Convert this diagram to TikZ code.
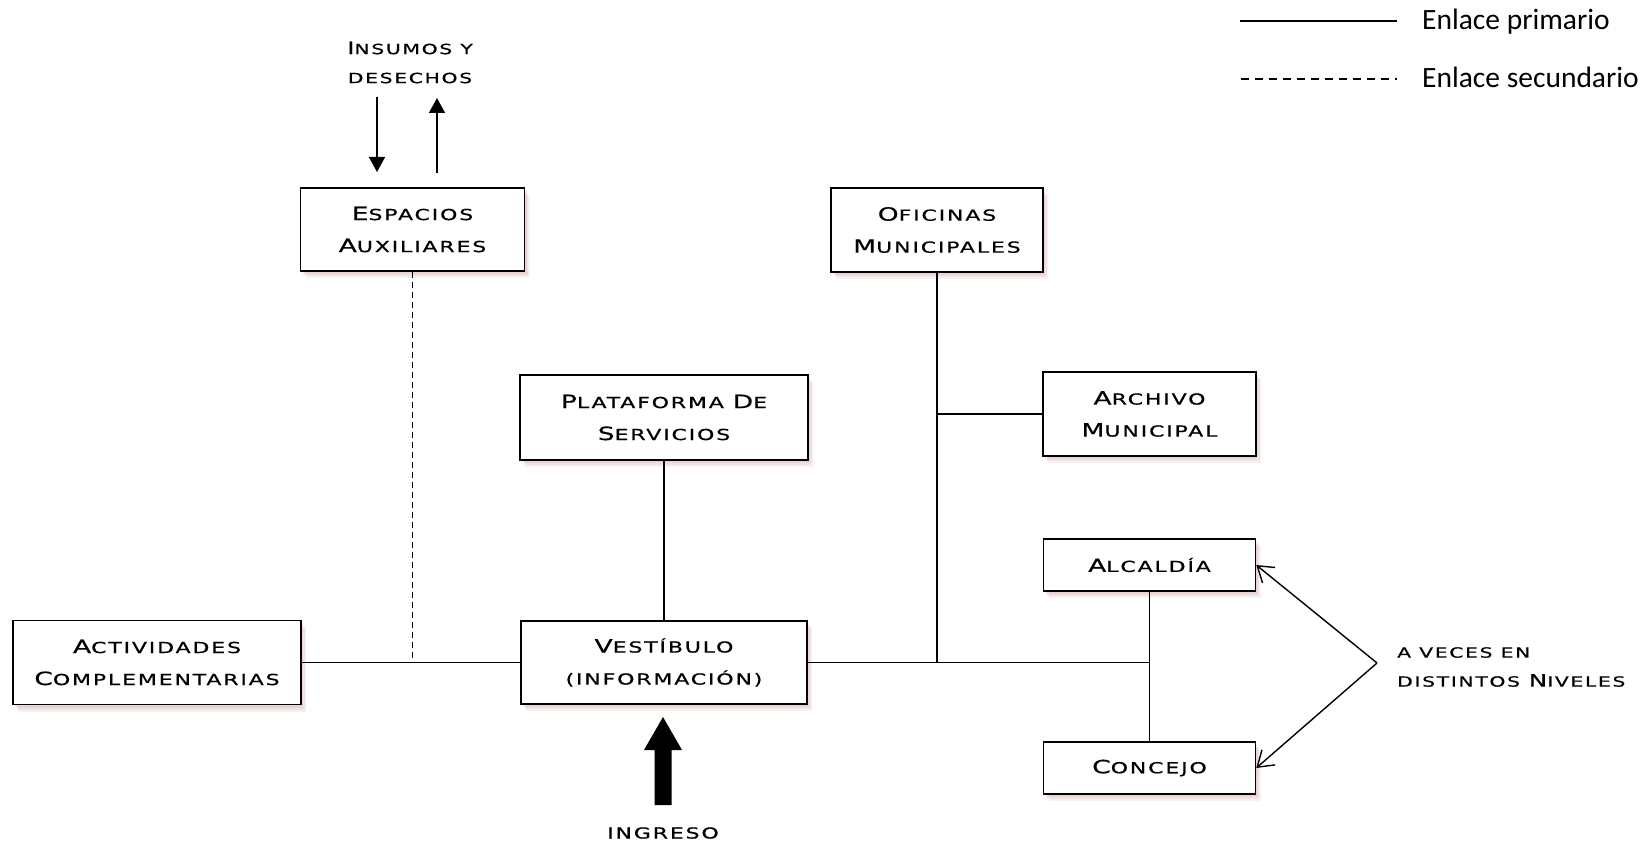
\documentclass[tikz,border=0pt]{standalone}
\usepackage{fontspec}
\setmainfont{DejaVu Sans}
\newfontfamily\cop[FakeStretch=1.45,LetterSpace=12,FakeBold=0.6]{DejaVu Sans}
\newfontfamily\leg{Carlito}
\usetikzlibrary{arrows.meta,shadows}
\definecolor{shd}{RGB}{190,120,120}
\def\Kb#1{{\fontsize{18.3}{20}\selectfont #1}}
\def\Ks#1{{\fontsize{15.2}{20}\selectfont #1}}
\def\Lb#1{{\fontsize{17}{20}\selectfont #1}}
\def\Ls#1{{\fontsize{14}{20}\selectfont #1}}
\tikzset{
  nbox/.style={draw, line width=1.5pt, fill=white, align=center, inner sep=0pt,
    font={\cop\fontsize{15.2}{32}\selectfont},
    drop shadow={shadow xshift=5pt, shadow yshift=-7pt, fill=shd, opacity=0.10},
    drop shadow={shadow xshift=3.5pt, shadow yshift=-5pt, fill=shd, opacity=0.12},
    drop shadow={shadow xshift=2pt, shadow yshift=-3pt, fill=shd, opacity=0.15}},
  lbl/.style={align=center, inner sep=0pt, font={\cop\fontsize{15.2}{29}\selectfont}},
  link/.style={line width=1.5pt},
  sec/.style={line width=1.5pt, dash pattern=on 6pt off 4pt},
  legtxt/.style={anchor=base west, inner sep=0pt, font={\leg\fontsize{29.5}{30}\selectfont}}
}
\begin{document}
\begin{tikzpicture}[x=1pt,y=-1pt]
\useasboundingbox (0,0) rectangle (1649,845);

% boxes
\node[nbox, minimum width=224, minimum height=83] (esp) at (412.5,229.5) {\Kb{E}\Ks{SPACIOS}\\\Kb{A}\Ks{UXILIARES}};
\node[nbox, minimum width=288, minimum height=84] (act) at (157,662.5) {\Kb{A}\Ks{CTIVIDADES}\\\Kb{C}\Ks{OMPLEMENTARIAS}};
\node[nbox, minimum width=286, minimum height=83] (ves) at (664,662.5) {\Kb{V}\Ks{ESTÍBULO}\\\Ks{(INFORMACIÓN)}};
\node[nbox, minimum width=288, minimum height=85] (pla) at (664,417.5) {\Kb{P}\Ks{LATAFORMA} \Kb{D}\Ks{E}\\\Kb{S}\Ks{ERVICIOS}};
\node[nbox, minimum width=212, minimum height=84] (ofi) at (937,230) {\Kb{O}\Ks{FICINAS}\\\Kb{M}\Ks{UNICIPALES}};
\node[nbox, minimum width=213, minimum height=84] (arc) at (1149.5,414) {\Kb{A}\Ks{RCHIVO}\\\Kb{M}\Ks{UNICIPAL}};
\node[nbox, minimum width=212, minimum height=52] (alc) at (1149.5,565) {\Kb{A}\Ks{LCALDÍA}};
\node[nbox, minimum width=212, minimum height=52] (con) at (1149.5,768) {\Kb{C}\Ks{ONCEJO}};

% connectors
\draw[link] (act.east) -- (ves.west);
\draw[sec] (esp.south) -- (esp.south |- act.east);
\draw[link] (pla.south) -- (ves.north);
\draw[link] (ves.east) -- (alc.south |- ves.east);
\draw[link] (alc.south) -- (con.north);
\draw[link] (ofi.south) -- (ofi.south |- ves.east);
\draw[link] (arc.west) -- (ofi.south |- arc.west);

% inputs / outputs of Espacios Auxiliares
\node[lbl] (ins) at (410,62.5) {\Lb{I}\Ls{NSUMOS Y}\\\Ls{DESECHOS}};
\coordinate (d1) at (377,97);
\coordinate (d2) at (377,172);
\coordinate (u1) at (437,173);
\coordinate (u2) at (437,98);
\draw[link,-{Triangle[length=15pt,width=16pt]}] (d1) -- (d2);
\draw[link,-{Triangle[length=15pt,width=16pt]}] (u1) -- (u2);

% ingreso
\coordinate (ingB) at (663,805);
\coordinate (ingT) at (663,717);
\fill (ingB) ++(-8.5,0) -- ++(0,-55) -- ++(-10.5,0) -- (ingT) -- ++(19,33) -- ++(-10.5,0) -- ++(0,55) -- cycle;
\node[lbl] (ing) at (663,833) {\Ks{INGRESO}};

% niveles
\coordinate (apex) at (1377,663);
\draw[line width=1.4pt,-{Straight Barb[length=15pt,width=20pt]}] (apex) -- (alc.east);
\draw[line width=1.4pt,-{Straight Barb[length=15pt,width=20pt]}] (apex) -- (con.east);
\node[lbl, anchor=west, align=left] (niv) at (1397,667) {\Ls{A VECES EN}\\\Ls{DISTINTOS} \Lb{N}\Ls{IVELES}};

% legend
\coordinate (l1a) at (1240,21);
\coordinate (l1b) at (1397,21);
\coordinate (l2a) at (1241,79);
\coordinate (l2b) at (1397,79);
\draw[line width=1.8pt] (l1a) -- (l1b);
\draw[line width=1.8pt, dash pattern=on 8pt off 6pt] (l2a) -- (l2b);
\node[legtxt] (lt1) at (1422,30) {Enlace primario};
\node[legtxt] (lt2) at (1422,88) {Enlace secundario};
\end{tikzpicture}
\end{document}
